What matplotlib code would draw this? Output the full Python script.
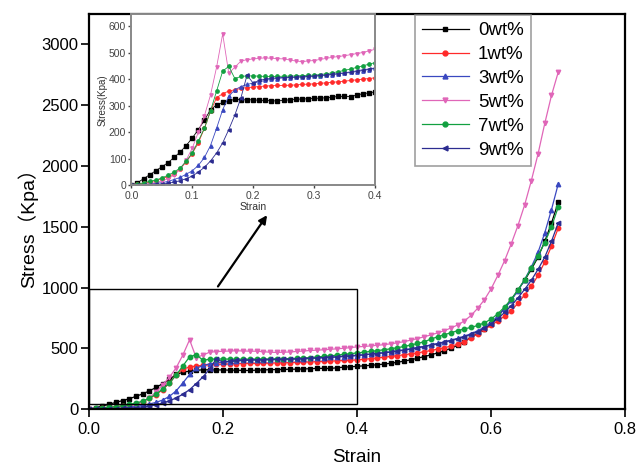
import matplotlib
matplotlib.use('Agg')
import matplotlib.pyplot as plt
from matplotlib.patches import Rectangle

plt.rcParams['font.family'] = ['Liberation Sans', 'Noto Sans CJK SC', 'DejaVu Sans']

# strain grid (step 0.01)
strain = [0.00, 0.01, 0.02, 0.03, 0.04, 0.05, 0.06, 0.07, 0.08, 0.09,
          0.10, 0.11, 0.12, 0.13, 0.14, 0.15, 0.16, 0.17, 0.18, 0.19,
          0.20, 0.21, 0.22, 0.23, 0.24, 0.25, 0.26, 0.27, 0.28, 0.29,
          0.30, 0.31, 0.32, 0.33, 0.34, 0.35, 0.36, 0.37, 0.38, 0.39,
          0.40, 0.41, 0.42, 0.43, 0.44, 0.45, 0.46, 0.47, 0.48, 0.49,
          0.50, 0.51, 0.52, 0.53, 0.54, 0.55, 0.56, 0.57, 0.58, 0.59,
          0.60, 0.61, 0.62, 0.63, 0.64, 0.65, 0.66, 0.67, 0.68, 0.69, 0.70]

# stress (Kpa)
s0 = [0, 10, 25, 40, 55, 70, 85, 105, 125, 150,
      178, 210, 245, 285, 303, 312, 318, 324, 322, 322,
      322, 320, 320, 318, 318, 320, 322, 324, 325, 326,
      328, 328, 330, 332, 335, 335, 334, 340, 345, 348,
      352, 356, 360, 365, 370, 377, 385, 395, 405, 418,
      432, 446, 462, 480, 500, 525, 555, 590, 625, 660,
      700, 760, 830, 900, 980, 1060, 1150, 1250, 1380, 1530, 1700]
s1 = [0, 4, 8, 13, 18, 25, 33, 43, 62, 88,
      120, 160, 215, 280, 330, 345, 355, 360, 365, 368,
      370, 372, 374, 375, 376, 376, 377, 378, 380, 381,
      382, 384, 386, 388, 390, 392, 395, 397, 400, 402,
      405, 410, 415, 421, 427, 433, 440, 447, 455, 463,
      472, 482, 493, 505, 518, 533, 555, 585, 620, 655,
      690, 725, 765, 810, 870, 940, 1010, 1100, 1210, 1340, 1488]
s3 = [0, 2, 4, 6, 8, 10, 15, 22, 30, 42,
      55, 75, 105, 150, 215, 285, 335, 360, 372, 380,
      385, 390, 395, 400, 402, 405, 405, 407, 408, 408,
      410, 412, 414, 417, 420, 422, 425, 428, 432, 436,
      440, 446, 452, 458, 465, 472, 480, 488, 497, 507,
      517, 528, 540, 553, 567, 582, 600, 620, 645, 675,
      715, 765, 825, 895, 975, 1065, 1170, 1290, 1450, 1640, 1850]
s5 = [0, 2, 4, 7, 11, 17, 25, 38, 60, 95,
      140, 200, 262, 340, 445, 570, 422, 445, 468, 473,
      476, 478, 480, 478, 477, 476, 472, 468, 466, 468,
      470, 474, 478, 482, 485, 488, 492, 496, 500, 506,
      512, 515, 520, 525, 530, 537, 545, 555, 567, 580,
      595, 610, 627, 645, 667, 692, 725, 770, 830, 900,
      990, 1100, 1220, 1360, 1510, 1680, 1880, 2100, 2350, 2580, 2770]
s7 = [0, 5, 10, 15, 20, 28, 38, 50, 65, 90,
      122, 167, 215, 280, 355, 430, 448, 402, 410, 412,
      412, 411, 410, 410, 410, 411, 411, 412, 413, 414,
      415, 417, 420, 424, 428, 433, 438, 444, 450, 456,
      462, 468, 474, 481, 488, 496, 505, 515, 527, 540,
      554, 575, 595, 612, 628, 645, 660, 672, 688, 710,
      740, 785, 840, 905, 980, 1065, 1160, 1260, 1370, 1500, 1660]
s9 = [0, 1, 2, 3, 4, 5, 8, 12, 18, 25,
      35, 50, 68, 92, 122, 160, 210, 265, 330, 415,
      385, 395, 400, 403, 405, 406, 407, 408, 409, 410,
      412, 414, 416, 418, 421, 424, 427, 431, 435, 438,
      442, 447, 452, 457, 463, 469, 476, 484, 493, 503,
      514, 525, 537, 550, 564, 579, 596, 615, 638, 665,
      700, 745, 795, 850, 915, 985, 1060, 1150, 1250, 1380, 1530]

labels = ['0wt%', '1wt%', '3wt%', '5wt%', '7wt%', '9wt%']
series = [s0, s1, s3, s5, s7, s9]
colors = ['#000000', '#ff2a2a', '#3a48c0', '#e066b8', '#12a040', '#2c2c90']
markers = ['s', 'o', '^', 'v', 'o', '<']

fig = plt.figure(figsize=(6.36, 4.67), dpi=100)
ax = fig.add_axes([0.140, 0.124, 0.843, 0.846])

for ys, lab, c, m in zip(series, labels, colors, markers):
    ax.plot(strain, ys, '-', color=c, marker=m, ms=3.2, lw=0.9, label=lab)

ax.set_xlim(0, 0.8)
ax.set_ylim(0, 3250)
ax.set_xticks([0.0, 0.2, 0.4, 0.6, 0.8])
ax.set_yticks([0, 500, 1000, 1500, 2000, 2500, 3000])
ax.xaxis.set_major_formatter(matplotlib.ticker.FormatStrFormatter('%.1f'))
ax.tick_params(direction='out', length=6, width=1.2, labelsize=12, pad=1.5)
ax.tick_params(axis='x', pad=3)
for sp in ax.spines.values():
    sp.set_linewidth(1.6)
ax.set_xlabel('Strain', fontsize=13.5, labelpad=9)
ax.set_ylabel('Stress（Kpa）', fontsize=14, labelpad=8)
ax.yaxis.set_label_coords(-0.095, 0.47)

# zoom box and arrow
ax.add_patch(Rectangle((0, 40), 0.4, 950, fill=False, ec='black', lw=1.0, zorder=5))
ax.annotate('', xy=(0.268, 1614), xytext=(0.19, 990),
            arrowprops=dict(arrowstyle='-|>', color='black', lw=1.6, mutation_scale=12))

leg = fig.legend(loc='upper left', bbox_to_anchor=(0.652, 0.968), fontsize=13.5,
                 frameon=True, fancybox=False, edgecolor='#888888', borderaxespad=0,
                 handlelength=2.5, labelspacing=0.36, borderpad=0.38, handletextpad=0.5,
                 markerscale=1.1)
leg.get_frame().set_linewidth(1.2)

# inset
ins = fig.add_axes([0.2065, 0.603, 0.383, 0.367])
for ys, c, m in zip(series, colors, markers):
    ins.plot(strain[:41], ys[:41], '-', color=c, marker=m, ms=2.4, lw=0.6)
ins.set_xlim(0, 0.4)
ins.set_ylim(0, 645)
ins.set_xticks([0.0, 0.1, 0.2, 0.3, 0.4])
ins.set_yticks([0, 100, 200, 300, 400, 500, 600])
ins.xaxis.set_major_formatter(matplotlib.ticker.FormatStrFormatter('%.1f'))
ins.tick_params(direction='out', length=2.5, width=1, labelsize=7.5, pad=1.2, colors='#444444')
for sp in ins.spines.values():
    sp.set_linewidth(1.4)
    sp.set_color('#888888')
ins.set_xlabel('Strain', fontsize=7.5, labelpad=1, color='#333333')
ins.set_ylabel('Stress(Kpa)', fontsize=7, labelpad=1, color='#333333')

fig.savefig('out.png', dpi=100)
